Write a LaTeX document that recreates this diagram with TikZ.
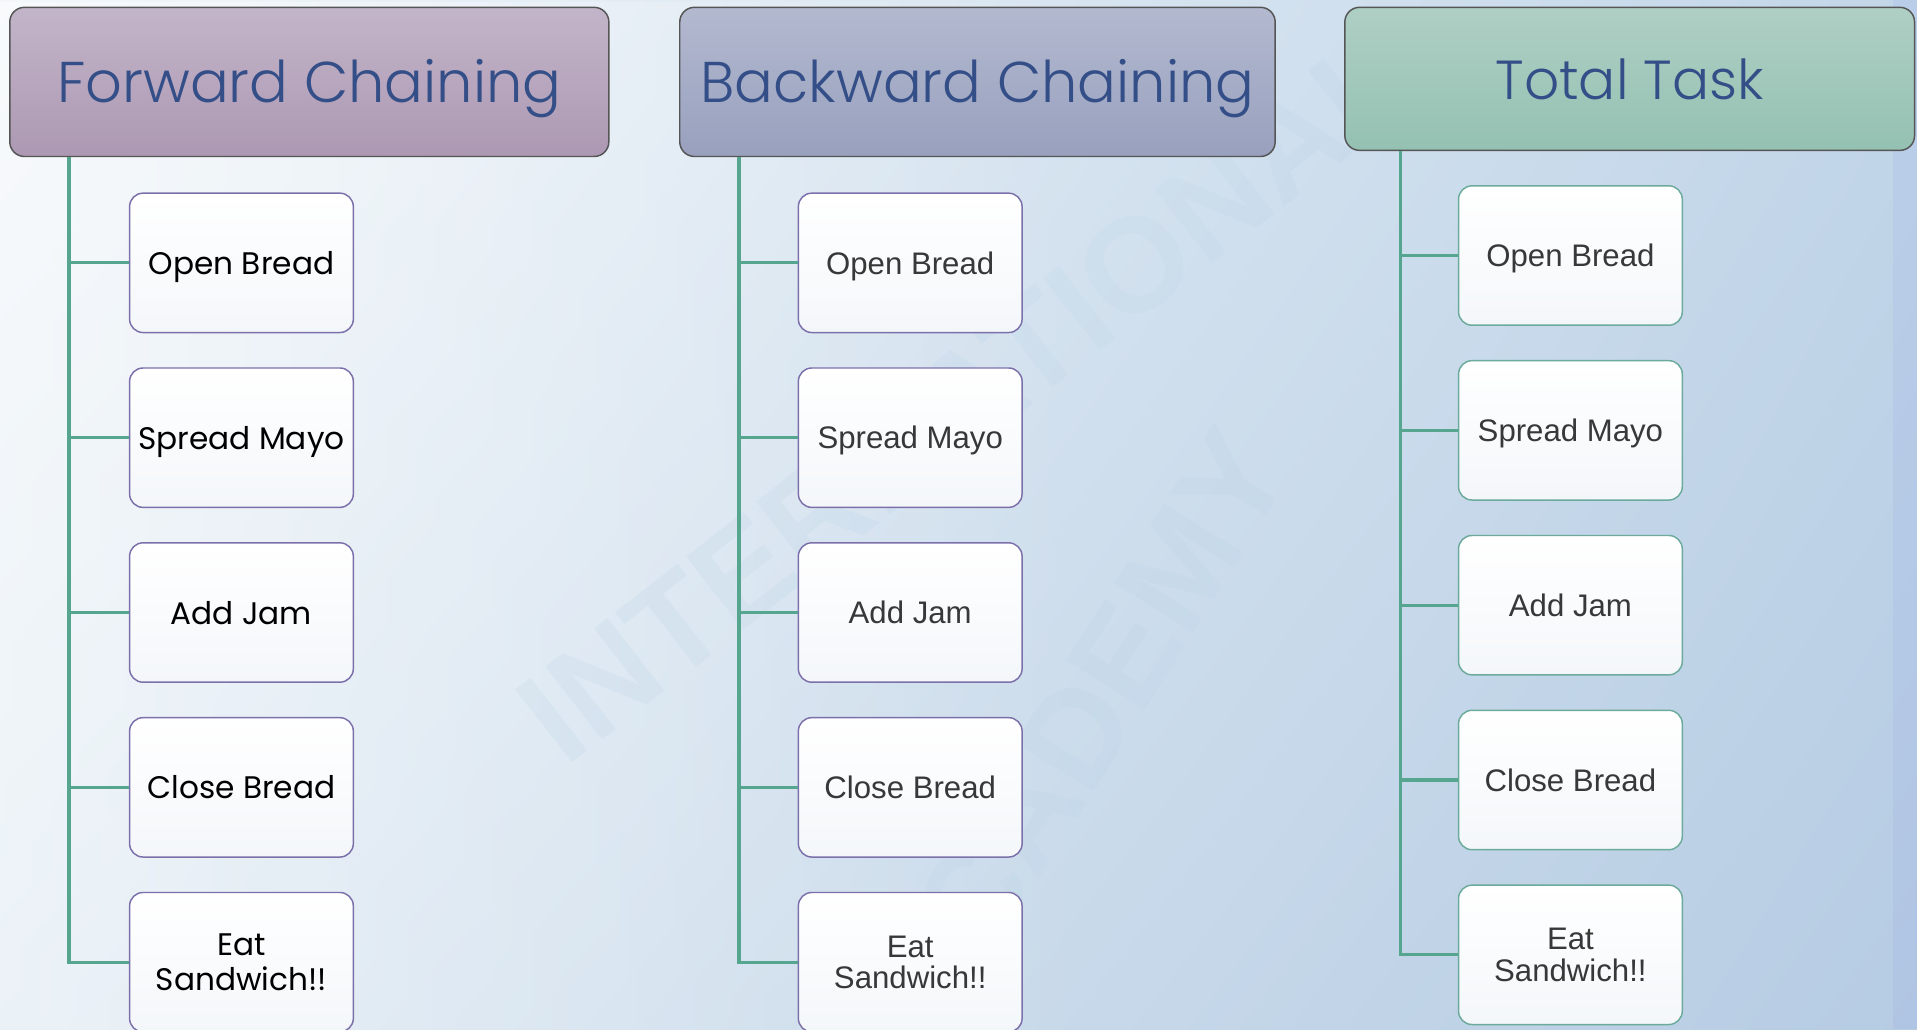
\documentclass[tikz,border=0pt]{standalone}
\usepackage{fontspec}
\setmainfont{Liberation Sans}
\newfontfamily\geo{Poppins Light}
\newfontfamily\georeg{Poppins}
\usetikzlibrary{calc,shadings,fadings}

\definecolor{bgTL}{HTML}{F3F7FA}
\definecolor{bgTR}{HTML}{C2D6E9}
\definecolor{bgBL}{HTML}{DCE8F2}
\definecolor{bgBR}{HTML}{B6CCE3}
\definecolor{wmark}{HTML}{B9D3E6}
\definecolor{fcTop}{HTML}{C3B5C9}
\definecolor{fcBot}{HTML}{AC98B2}
\definecolor{bcTop}{HTML}{B3B9CF}
\definecolor{bcBot}{HTML}{98A0BE}
\definecolor{ttTop}{HTML}{AFCFC4}
\definecolor{ttBot}{HTML}{94C1B2}
\definecolor{hdrText}{HTML}{344E88}
\definecolor{hdrLine}{HTML}{555555}
\definecolor{kidLineP}{HTML}{7C70AA}
\definecolor{kidLineT}{HTML}{6CAA9C}
\definecolor{trunk}{HTML}{55A58F}
\definecolor{kidText}{HTML}{383838}
\definecolor{kidBot}{HTML}{F4F7FA}

\begin{document}
\begin{tikzpicture}[x=1pt,y=-1pt,
  hdr/.style={draw=hdrLine, line width=1.2pt, rounded corners=12pt,
    inner sep=0pt, text=hdrText, text height=33pt, text depth=0pt,
    font=\geo\fontsize{47}{56}\selectfont},
  kid/.style={draw=kidLineP, line width=1.2pt, rounded corners=11pt,
    top color=white, bottom color=kidBot, text depth=0pt,
    minimum width=183pt, minimum height=114pt, inner sep=0pt, align=center},
  kidgeo/.style={kid, text=black, font=\georeg\fontsize{25.5}{29}\selectfont},
  kidarial/.style={kid, text=kidText, font=\fontsize{25.5}{26}\selectfont},
  kidteal/.style={kidarial, draw=kidLineT},
  conn/.style={draw=trunk, line width=2.6pt},
  wm/.style={text=wmark, opacity=0.2, font=\bfseries\fontsize{110}{110}\selectfont}
]
\useasboundingbox (0,0) rectangle (1568,842);

% background
\shade[upper left=bgTL, upper right=bgTR, lower left=bgBL, lower right=bgBR]
  (0,0) rectangle (1568,842);
\fill[white, opacity=0.45, path fading=east] (0,0) rectangle (900,842);
\fill[bgBR!80!blue, opacity=0.15] (1548,0) rectangle (1568,842);

% faint watermark
\node[wm, rotate=38] (wm1) at (790,325) {INTERNATIONAL};
\node[wm, rotate=58] (wm2) at (880,600) {ACADEMY};

% headers
\node[hdr, top color=fcTop, bottom color=fcBot, minimum width=490pt, minimum height=122pt]
  (fc) at (253,67) {Forward Chaining};
\node[hdr, top color=bcTop, bottom color=bcBot, minimum width=487pt, minimum height=122pt]
  (bc) at (799.5,67) {Backward Chaining};
\node[hdr, top color=ttTop, bottom color=ttBot, minimum width=466pt, minimum height=117pt,
  font=\geo\fontsize{45}{54}\selectfont]
  (tt) at (1333,64.5) {Total Task};

% forward chaining steps
\node[kidgeo] (f1) at (197.5,215) {Open Bread};
\node[kidgeo] (f2) at (197.5,358) {Spread Mayo};
\node[kidgeo] (f3) at (197.5,501) {Add Jam};
\node[kidgeo] (f4) at (197.5,644) {Close Bread};
\node[kidgeo] (f5) at (197.5,787) {Eat\\Sandwich!!};

% backward chaining steps
\node[kidarial] (b1) at (744.5,215) {Open Bread};
\node[kidarial] (b2) at (744.5,358) {Spread Mayo};
\node[kidarial] (b3) at (744.5,501) {Add Jam};
\node[kidarial] (b4) at (744.5,644) {Close Bread};
\node[kidarial] (b5) at (744.5,787) {Eat\\Sandwich!!};

% total task steps
\node[kidteal] (t1) at (1284.5,209) {Open Bread};
\node[kidteal] (t2) at (1284.5,352) {Spread Mayo};
\node[kidteal] (t3) at (1284.5,495) {Add Jam};
\node[kidteal] (t4) at (1284.5,638) {Close Bread};
\node[kidteal] (t5) at (1284.5,781) {Eat\\Sandwich!!};

% trunks and branches
\coordinate (fr) at ([xshift=49pt]fc.south west);
\coordinate (br) at ([xshift=49pt]bc.south west);
\coordinate (tr) at ([xshift=46pt]tt.south west);
\draw[conn] (fr) |- (f5.west);
\draw[conn] (br) |- (b5.west);
\draw[conn] (tr) |- (t5.west);
\foreach \k in {1,2,3,4} {
  \draw[conn] (f\k.west) -- (f\k.west -| fr);
  \draw[conn] (b\k.west) -- (b\k.west -| br);
  \draw[conn] (t\k.west) -- (t\k.west -| tr);
}
\end{tikzpicture}
\end{document}
